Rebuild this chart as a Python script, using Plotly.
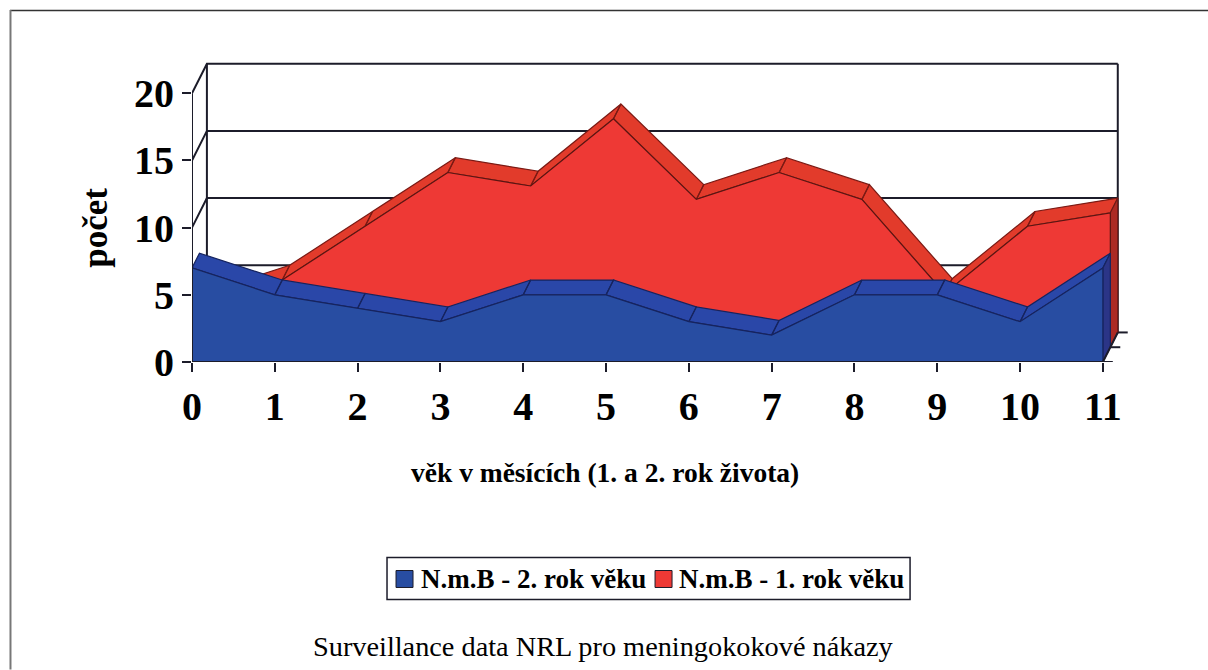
import plotly.graph_objects as go

months = list(range(12))
blue_values = [7, 5, 4, 3, 5, 5, 3, 2, 5, 5, 3, 7]
red_values = [3, 5, 9, 13, 12, 17, 11, 13, 11, 4, 9, 10]
y_ticks = [0, 5, 10, 15, 20]
blue_name = "N.m.B - 2. rok věku"
red_name = "N.m.B - 1. rok věku"
x_title = "věk v měsících (1. a 2. rok života)"
y_title = "počet"
caption = "Surveillance data NRL pro meningokokové nákazy"

W, H = 1208, 670
X_UNIT, Y_UNIT = 82.8, 13.45
X_MAX, Y_MAX = 11.4, 22.4
L, B = 192, 362.3
R, T = L + X_UNIT * X_MAX, B - Y_UNIT * Y_MAX
DX, DY = 0.09, 1.1   # shift per depth slot, in data units
SERIF = "Liberation Serif"
INK = "#1c1c2a"
BLUE, RED = "#284da2", "#ee3935"


def px(x):
    return (x - L) / (R - L)


def py(y):
    return (B - y) / (B - T)


def shift(x, y, depth):
    return x + DX * depth, y + DY * depth


def band(values, d0, d1):
    xs, ys = [], []
    for i in range(len(values) - 1):
        a = shift(months[i], values[i], d0)
        b = shift(months[i], values[i], d1)
        c = shift(months[i + 1], values[i + 1], d1)
        e = shift(months[i + 1], values[i + 1], d0)
        xs += [a[0], b[0], c[0], e[0], a[0], None]
        ys += [a[1], b[1], c[1], e[1], a[1], None]
    return xs, ys


def front(values, d):
    xs = [shift(m, 0, d)[0] for m in months]
    ys = [shift(m, v, d)[1] for m, v in zip(months, values)]
    base = shift(0, 0, d)[1]
    return [xs[0]] + xs + [xs[-1], xs[0]], [base] + ys + [base, base]


def end_cap(values, d0, d1):
    m, v = months[-1], values[-1]
    p = [shift(m, 0, d0), shift(m, 0, d1), shift(m, v, d1), shift(m, v, d0), shift(m, 0, d0)]
    return [q[0] for q in p], [q[1] for q in p]


def poly(x, y, fill, line, width=1.2):
    return go.Scatter(x=x, y=y, mode="lines", fill="toself", fillcolor=fill,
                      line=dict(color=line, width=width), hoverinfo="skip", showlegend=False)


def wire(x, y, width=2):
    return go.Scatter(x=x, y=y, mode="lines", line=dict(color=INK, width=width),
                      hoverinfo="skip", showlegend=False)


fig = go.Figure()

# walls
for t in y_ticks[1:]:
    a, b = shift(0, t, 0), shift(0, t, 2)
    c = shift(months[-1], t, 2)
    fig.add_trace(wire([a[0], b[0], c[0]], [a[1], b[1], c[1]]))
a, b = shift(0, 0, 2), shift(0, y_ticks[-1], 2)
fig.add_trace(wire([a[0], b[0]], [a[1], b[1]]))
a, b = shift(months[-1], 0, 2), shift(months[-1], y_ticks[-1], 2)
fig.add_trace(wire([a[0], b[0]], [a[1], b[1]]))
for d in (1, 2):
    a = shift(months[-1], 0, d)
    fig.add_trace(wire([a[0], a[0] + 0.12], [a[1], a[1]]))

# red series
fig.add_trace(poly(*band(red_values, 1, 2), "#e23b2b", "#7a1a14"))
fig.add_trace(poly(*end_cap(red_values, 1, 2), "#ac2a24", "#6e1a16"))
fig.add_trace(poly(*front(red_values, 1), RED, "#5a1512"))

# blue series
fig.add_trace(poly(*band(blue_values, 0, 1), "#2a47a8", "#16245f"))
fig.add_trace(poly(*end_cap(blue_values, 0, 1), "#2b3587", "#16245f"))
fig.add_trace(poly(*front(blue_values, 0), BLUE, "#16245f"))

# front axis lines and floor edge
fig.add_trace(wire([months[0], months[0]], [y_ticks[0], y_ticks[-1]]))
fig.add_trace(wire([months[0], months[-1]], [y_ticks[0], y_ticks[0]]))
a, b = shift(months[-1], 0, 0), shift(months[-1], 0, 2)
fig.add_trace(wire([a[0], b[0]], [a[1], b[1]]))
fig.add_trace(wire([a[0], a[0] + 0.12], [a[1], a[1]]))

TICK_FONT = dict(family=SERIF, size=40, color="black", weight="bold")
LEGEND_FONT = dict(family=SERIF, size=27, color="black", weight="bold")

fig.update_layout(
    width=W, height=H, autosize=False, showlegend=False,
    margin=dict(l=L, r=W - R, t=T, b=H - B),
    paper_bgcolor="white", plot_bgcolor="rgba(0,0,0,0)",
    font=dict(family=SERIF, color="black"),
    xaxis=dict(range=[months[0], X_MAX], tickmode="array", tickvals=months,
               ticktext=[str(m) for m in months], ticks="outside", ticklen=9, tickwidth=2,
               tickcolor=INK, showline=False, showgrid=False, zeroline=False, tickangle=0,
               ticklabelstandoff=0, tickfont=TICK_FONT),
    yaxis=dict(range=[y_ticks[0], Y_MAX], tickmode="array", tickvals=y_ticks,
               ticks="outside", ticklen=9, tickwidth=2, tickcolor=INK, showline=False,
               showgrid=False, zeroline=False, tickfont=TICK_FONT),
    shapes=[
        dict(type="line", xref="paper", yref="paper", x0=px(10), x1=px(W), y0=py(10.5), y1=py(10.5),
             line=dict(color="#333333", width=1.5)),
        dict(type="line", xref="paper", yref="paper", x0=px(10.5), x1=px(10.5), y0=py(10), y1=py(H),
             line=dict(color="#777777", width=2)),
        dict(type="rect", xref="paper", yref="paper", x0=px(387), x1=px(910), y0=py(558), y1=py(600),
             line=dict(color=INK, width=1.5), fillcolor="white"),
        dict(type="rect", xref="paper", yref="paper", x0=px(396), x1=px(413), y0=py(571), y1=py(588),
             line=dict(color=INK, width=1), fillcolor=BLUE),
        dict(type="rect", xref="paper", yref="paper", x0=px(655), x1=px(672), y0=py(571), y1=py(588),
             line=dict(color=INK, width=1), fillcolor=RED),
    ],
    annotations=[
        dict(text=blue_name, xref="paper", yref="paper", x=px(419), y=py(580), showarrow=False,
             xanchor="left", yanchor="middle", font=LEGEND_FONT),
        dict(text=red_name, xref="paper", yref="paper", x=px(677), y=py(580), showarrow=False,
             xanchor="left", yanchor="middle", font=LEGEND_FONT),
        dict(text=x_title, xref="paper", yref="paper", x=px(605), y=py(473), showarrow=False,
             xanchor="center", yanchor="middle",
             font=dict(family=SERIF, size=27.5, color="black", weight="bold")),
        dict(text=y_title, xref="paper", yref="paper", x=px(96), y=py(228), showarrow=False,
             textangle=-90, xanchor="center", yanchor="middle",
             font=dict(family=SERIF, size=35, color="black", weight="bold")),
        dict(text=caption, xref="paper", yref="paper", x=px(603), y=py(647), showarrow=False,
             xanchor="center", yanchor="middle",
             font=dict(family=SERIF, size=28.3, color="black")),
    ],
)

fig.write_html("out.html", config=dict(displayModeBar=False),
               post_script="document.body.style.margin='0';document.body.style.overflow='hidden';")
